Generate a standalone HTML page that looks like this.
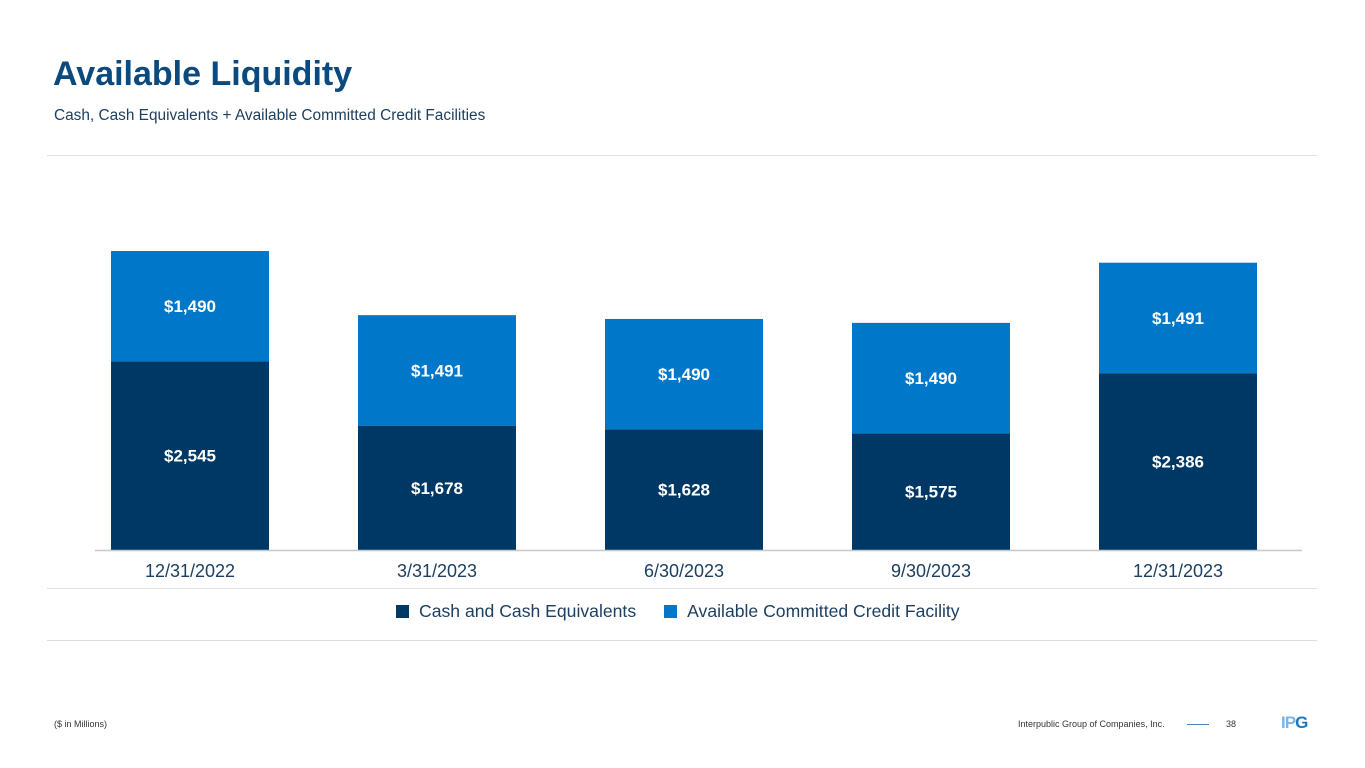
<!DOCTYPE html>
<html><head><meta charset="utf-8"><style>
body{margin:0;width:1365px;height:768px;background:#fff;font-family:"Liberation Sans",sans-serif;position:relative;overflow:hidden}
.a{position:absolute}
</style></head><body>
<div class="a" style="left:53px;top:55px;font-size:34px;font-weight:bold;color:#0a4a7f">Available Liquidity</div>
<div class="a" style="left:54px;top:107px;font-size:15.4px;color:#1d3f60">Cash, Cash Equivalents + Available Committed Credit Facilities</div>
<div class="a" style="left:47px;top:155px;width:1270px;height:1px;background:#ddd"></div>
<div class="a" style="left:47px;top:588px;width:1270px;height:1px;background:#ddd"></div>
<div class="a" style="left:47px;top:640px;width:1270px;height:1px;background:#ddd"></div>
<svg class="a" style="left:0;top:0" width="1365" height="768" id="chart"></svg>
<div class="a" style="left:396px;top:601px;font-size:17.6px;color:#1d3f60;display:flex;align-items:center">
<span style="display:flex;align-items:center"><span style="width:13px;height:13px;background:#003865;margin-right:10px"></span>Cash and Cash Equivalents</span>
<span style="display:flex;align-items:center;margin-left:28px"><span style="width:13px;height:13px;background:#0077c8;margin-right:10px"></span>Available Committed Credit Facility</span>
</div>
<div class="a" style="left:54px;top:719px;font-size:9px;color:#333">($ in Millions)</div>
<div class="a" style="left:1018px;top:719px;font-size:9px;color:#333">Interpublic Group of Companies, Inc.</div>
<div class="a" style="left:1187px;top:724px;width:22px;height:1px;background:#4a7fb0"></div>
<div class="a" style="left:1226px;top:719px;font-size:9px;color:#333">38</div>
<div class="a" style="left:1281px;top:713px;font-size:17px;font-weight:bold;color:#1b78c0;letter-spacing:-1px"><span style="color:#7fb3e0">I</span><span style="color:#7fb3e0">P</span>G</div>
<script>
const categories=["12/31/2022","3/31/2023","6/30/2023","9/30/2023","12/31/2023"];
const cash=[2545,1678,1628,1575,2386];
const credit=[1490,1491,1490,1490,1491];
const svg=document.getElementById('chart');
const NS="http://www.w3.org/2000/svg";
const base=550,scale=299/4035;
const y=v=>base-v*scale;
const x=i=>111+i*247;
const bw=158;
function mk(t,a){const e=document.createElementNS(NS,t);for(const k in a)e.setAttribute(k,a[k]);svg.appendChild(e);return e;}
const fmt=v=>'$'+v.toLocaleString('en-US');
categories.forEach((c,i)=>{
 const r1=mk('rect',{x:x(i),y:y(cash[i]),width:bw,height:base-y(cash[i]),fill:'#003865'});
 
 
 const top=cash[i]+credit[i];
 const r2=mk('rect',{x:x(i),y:y(top),width:bw,height:y(cash[i])-y(top),fill:'#0077c8'});
 
 
 const t1=mk('text',{x:x(i)+bw/2,y:(y(cash[i])+base)/2+6,'text-anchor':'middle','font-size':17,'font-weight':'bold',fill:'#fff','font-family':'Liberation Sans'});
 t1.textContent=fmt(cash[i]);
 
 
 const t2=mk('text',{x:x(i)+bw/2,y:(y(top)+y(cash[i]))/2+6,'text-anchor':'middle','font-size':17,'font-weight':'bold',fill:'#fff','font-family':'Liberation Sans'});
 t2.textContent=fmt(credit[i]);
 
 
 const t3=mk('text',{x:x(i)+bw/2,y:577,'text-anchor':'middle','font-size':18,fill:'#1d3f60','font-family':'Liberation Sans'});
 t3.textContent=c;
 
 
});
const ax=mk('line',{x1:95,x2:1302,y1:550.5,y2:550.5,stroke:'#c8c8c8','stroke-width':1.5});


</script>
</body></html>
